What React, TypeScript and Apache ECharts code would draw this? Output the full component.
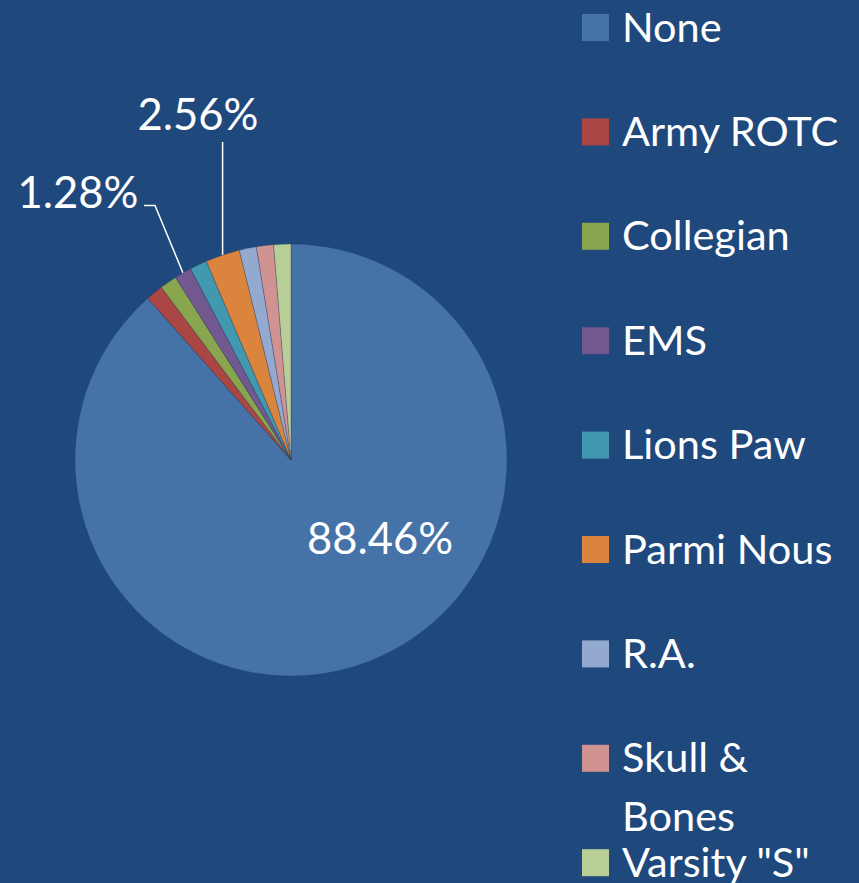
import React, { useEffect, useRef } from 'react';
import * as echarts from 'echarts';

const categories = ['None', 'Army ROTC', 'Collegian', 'EMS', 'Lions Paw', 'Parmi Nous', 'R.A.', 'Skull & Bones', 'Varsity "S"'];
const counts = [69, 1, 1, 1, 1, 2, 1, 1, 1];
const colors = ['#4572A7', '#AA4643', '#89A54E', '#71588F', '#4198AF', '#DB843D', '#93A9CF', '#D19392', '#B9CD96'];

const FONT = 'Lato, "Open Sans", sans-serif';
const labelPlacement: Record<number, { x: number; y: number }> = {
  0: { x: 380, y: 537 },
  3: { x: 78, y: 191 },
  5: { x: 198, y: 113 },
};

export default function App() {
  const ref = useRef<HTMLDivElement>(null);
  useEffect(() => {
    document.body.style.margin = '0';
    const chart = echarts.init(ref.current!, null, { renderer: 'svg' });
    const total = counts.reduce((a, b) => a + b, 0);
    const legendItems: any[] = [];
    categories.forEach((n, i) => {
      const cy = 27.5 + 104.4 * i;
      legendItems.push({
        type: 'rect',
        shape: { x: 582, y: cy - 13.5, width: 27, height: 27 },
        style: { fill: colors[i] },
      });
      legendItems.push({
        type: 'text',
        x: 622,
        y: cy - 31.5,
        style: {
          text: n.replace('& ', '&\n'),
          fill: '#ffffff',
          fontSize: 41.5,
          fontFamily: FONT,
          lineHeight: 59,
          verticalAlign: 'top',
          align: 'left',
        },
      });
    });
    chart.setOption({
      animation: false,
      backgroundColor: '#1F497D',
      series: [
        {
          type: 'pie',
          center: [291, 460],
          radius: 216,
          startAngle: 90,
          clockwise: true,
          avoidLabelOverlap: false,
          data: categories.map((n, i) => ({
            name: n,
            value: counts[i],
            itemStyle: { color: colors[i] },
            label: { show: i in labelPlacement, position: i === 0 ? 'inside' : 'outside' },
            labelLine: { show: i === 3 || i === 5 },
          })),
          label: {
            formatter: (p: any) => ((p.value / total) * 100).toFixed(2) + '%',
            color: '#ffffff',
            fontSize: 43.5,
            fontFamily: FONT,
          },
          labelLine: { lineStyle: { color: '#ffffff', width: 1.5 }, length: 20, length2: 10 },
          itemStyle: { borderColor: 'rgba(30,50,80,0.45)', borderWidth: 0.6 },
          labelLayout: (p: any) => {
            const pos = labelPlacement[p.dataIndex];
            if (!pos) return undefined;
            const res: any = { x: pos.x, y: pos.y, align: 'center', verticalAlign: 'middle' };
            const e = p.labelLinePoints && p.labelLinePoints[0];
            if (e && p.dataIndex === 5) {
              res.labelLinePoints = [e, [e[0], pos.y + 29], [e[0], pos.y + 29]];
            } else if (e && p.dataIndex === 3) {
              res.labelLinePoints = [e, [pos.x + 77, pos.y + 14.5], [pos.x + 66, pos.y + 14.5]];
            }
            return res;
          },
        },
      ],
      graphic: legendItems,
    });
    return () => chart.dispose();
  }, []);
  return <div ref={ref} style={{ width: 859, height: 883 }} />;
}
